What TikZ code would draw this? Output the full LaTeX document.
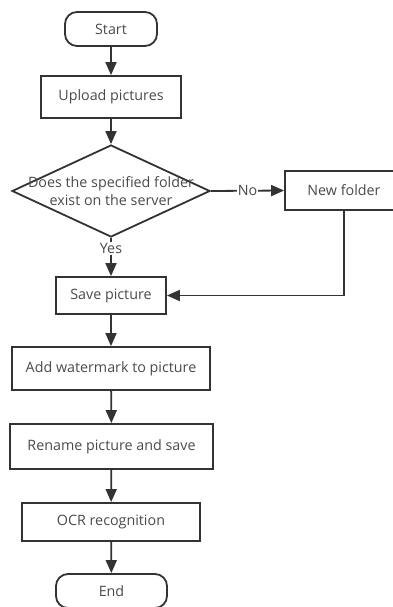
\documentclass[tikz,border=0pt]{standalone}
\usepackage{fontspec}
\setmainfont{Open Sans}
\usetikzlibrary{shapes.geometric,arrows.meta}
\definecolor{ln}{HTML}{333333}
\definecolor{tx}{HTML}{4A4A4A}
\tikzset{
  txt/.style={text=tx, font=\fontsize{14.3}{18}\selectfont},
  box/.style={draw=ln, line width=1.8pt, rectangle, inner sep=0pt, txt},
  term/.style={box, rounded corners=12pt},
  dec/.style={draw=ln, line width=1.8pt, diamond, inner sep=0pt},
  arr/.style={draw=ln, line width=1.8pt, -{Triangle[length=13pt,width=11pt]}},
  lab/.style={fill=white, inner sep=1pt, txt},
}
\begin{document}
\begin{tikzpicture}[x=1pt,y=1pt]
\useasboundingbox (0,0) rectangle (393,-607);
\clip (0,0) rectangle (393,-607);
\node[term, minimum width=92pt, minimum height=34pt] (start) at (111,-29) {Start};
\node[box, minimum width=140pt, minimum height=42pt] (upload) at (111,-97) {Upload pictures};
\node[dec, minimum width=198pt, minimum height=92pt, label={[txt, align=center]center:Does the specified folder\\exist on the server}] (dec) at (111,-191) {};
\node[box, minimum width=118pt, minimum height=39pt] (newf) at (344,-190.5) {New folder};
\node[box, minimum width=110pt, minimum height=37pt] (save) at (111,-295.5) {Save picture};
\node[box, minimum width=198pt, minimum height=43pt] (water) at (111,-368.5) {Add watermark to picture};
\node[box, minimum width=203pt, minimum height=45pt] (rename) at (111.5,-446.5) {Rename picture and save};
\node[box, minimum width=178pt, minimum height=38pt] (ocr) at (111,-522) {OCR recognition};
\node[term, minimum width=111pt, minimum height=34pt] (end) at (111.5,-591) {End};
\draw[arr] (start) -- (upload);
\draw[arr] (upload) -- (dec);
\draw[arr] (dec.east) -- node[lab] {No} (newf.west);
\draw[arr] (dec.south) -- node[lab, pos=0.28] {Yes} (save.north);
\draw[arr] (newf.south) |- (save.east);
\draw[arr] (save) -- (water);
\draw[arr] (water) -- (rename);
\draw[arr] (rename) -- (ocr);
\draw[arr] (ocr) -- (end);
\end{tikzpicture}
\end{document}
